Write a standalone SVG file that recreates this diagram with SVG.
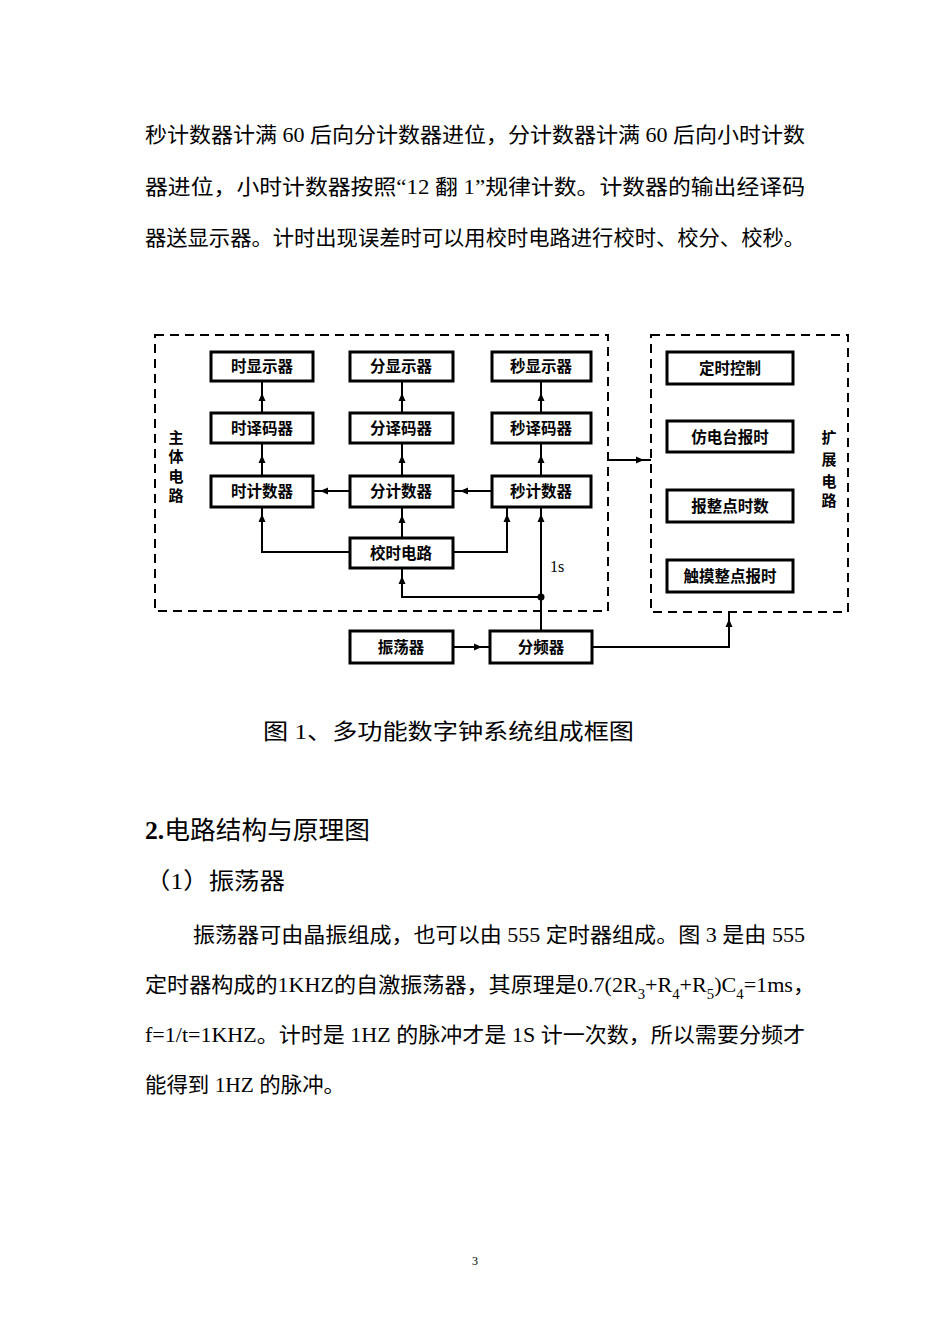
<svg xmlns="http://www.w3.org/2000/svg" width="950" height="1344" viewBox="0 0 950 1344">
<style>
.body{font-family:"Liberation Serif","Noto Sans CJK SC",serif;font-size:21px;fill:#000}
.box rect{fill:#fff;stroke:#000;stroke-width:3}
.box text{font-family:"Noto Sans CJK SC",sans-serif;font-size:15.5px;font-weight:bold;text-anchor:middle;fill:#000}
.dash{fill:none;stroke:#000;stroke-width:2;stroke-dasharray:9 6}
.vlabel{font-family:"Noto Sans CJK SC",sans-serif;font-size:15px;font-weight:bold;text-anchor:middle;fill:#000}
#connectors path{fill:none;stroke:#000;stroke-width:2}
#connectors .ah{fill:#000;stroke:none}
</style>
<defs>
<path id="ah" d="M0,0 L-8,-3.5 L-8,3.5 Z"/>
</defs>
<rect width="950" height="1344" fill="#fff"/>

<g id="text-top" class="body">
<text x="145" y="142" textLength="660" lengthAdjust="spacingAndGlyphs">秒计数器计满 60 后向分计数器进位，分计数器计满 60 后向小时计数</text>
<text x="145" y="194" textLength="660" lengthAdjust="spacingAndGlyphs">器进位，小时计数器按照“12 翻 1”规律计数。计数器的输出经译码</text>
<text x="145" y="245" textLength="660" lengthAdjust="spacingAndGlyphs">器送显示器。计时出现误差时可以用校时电路进行校时、校分、校秒。</text>
</g>

<g id="frames">
<rect class="dash" x="155" y="335" width="453" height="276"/>
<rect class="dash" x="651" y="335" width="197" height="277"/>
<g class="vlabel">
<text x="176" y="443">主</text>
<text x="176" y="462">体</text>
<text x="176" y="482">电</text>
<text x="176" y="501">路</text>
<text x="829" y="443">扩</text>
<text x="829" y="465">展</text>
<text x="829" y="487">电</text>
<text x="829" y="506">路</text>
</g>
</g>

<g id="connectors">
<path d="M262,381 V413 M262,443 V476"/>
<path d="M402,381 V413 M402,443 V476"/>
<path d="M541,381 V413 M541,443 V476"/>
<path d="M492,491 H453 M350,491 H313"/>
<path d="M262,507 V552 H350"/>
<path d="M402,507 V538"/>
<path d="M453,552 H507 V507"/>
<path d="M541,507 V631"/>
<path d="M541,597 H402 V568"/>
<path d="M453,647 H490"/>
<path d="M592,647 H729 V612"/>
<path d="M608,460 H651"/>
<circle cx="541" cy="597" r="3.5" fill="#000"/>
<g class="ah">
<use href="#ah" transform="translate(262,393) rotate(-90)"/>
<use href="#ah" transform="translate(262,455) rotate(-90)"/>
<use href="#ah" transform="translate(402,393) rotate(-90)"/>
<use href="#ah" transform="translate(402,455) rotate(-90)"/>
<use href="#ah" transform="translate(541,393) rotate(-90)"/>
<use href="#ah" transform="translate(541,455) rotate(-90)"/>
<use href="#ah" transform="translate(460,491) rotate(180)"/>
<use href="#ah" transform="translate(320,491) rotate(180)"/>
<use href="#ah" transform="translate(262,514) rotate(-90)"/>
<use href="#ah" transform="translate(402,515) rotate(-90)"/>
<use href="#ah" transform="translate(507,514) rotate(-90)"/>
<use href="#ah" transform="translate(541,514) rotate(-90)"/>
<use href="#ah" transform="translate(402,576) rotate(-90)"/>
<use href="#ah" transform="translate(482,647)"/>
<use href="#ah" transform="translate(729,619) rotate(-90)"/>
<use href="#ah" transform="translate(644,460)"/>
</g>
<text x="550" y="572" font-family="Liberation Serif, serif" font-size="16">1s</text>
</g>

<g id="n-hdisp" class="box"><rect x="211" y="352" width="102" height="29"/><text x="262" y="372">时显示器</text></g>
<g id="n-mdisp" class="box"><rect x="350" y="352" width="103" height="29"/><text x="401" y="372">分显示器</text></g>
<g id="n-sdisp" class="box"><rect x="492" y="352" width="99" height="29"/><text x="541" y="372">秒显示器</text></g>
<g id="n-hdec" class="box"><rect x="211" y="413" width="102" height="30"/><text x="262" y="434">时译码器</text></g>
<g id="n-mdec" class="box"><rect x="350" y="413" width="103" height="30"/><text x="401" y="434">分译码器</text></g>
<g id="n-sdec" class="box"><rect x="492" y="413" width="99" height="30"/><text x="541" y="434">秒译码器</text></g>
<g id="n-hcnt" class="box"><rect x="211" y="476" width="102" height="31"/><text x="262" y="497">时计数器</text></g>
<g id="n-mcnt" class="box"><rect x="350" y="476" width="103" height="31"/><text x="401" y="497">分计数器</text></g>
<g id="n-scnt" class="box"><rect x="492" y="476" width="99" height="31"/><text x="541" y="497">秒计数器</text></g>
<g id="n-adj" class="box"><rect x="350" y="538" width="103" height="30"/><text x="401" y="559">校时电路</text></g>
<g id="n-osc" class="box"><rect x="350" y="631" width="103" height="32"/><text x="401" y="653">振荡器</text></g>
<g id="n-div" class="box"><rect x="490" y="631" width="102" height="32"/><text x="541" y="653">分频器</text></g>
<g id="n-timer" class="box"><rect x="667" y="352" width="126" height="32"/><text x="730" y="374">定时控制</text></g>
<g id="n-radio" class="box"><rect x="667" y="421" width="126" height="31"/><text x="730" y="443">仿电台报时</text></g>
<g id="n-hour" class="box"><rect x="667" y="490" width="126" height="32"/><text x="730" y="512">报整点时数</text></g>
<g id="n-touch" class="box"><rect x="667" y="560" width="126" height="32"/><text x="730" y="582">触摸整点报时</text></g>

<g id="text-bottom" class="body">
<text x="263" y="739" font-size="22" textLength="371" lengthAdjust="spacingAndGlyphs">图 1、多功能数字钟系统组成框图</text>
<text x="145" y="839" font-size="25" textLength="225" lengthAdjust="spacingAndGlyphs"><tspan font-weight="bold">2.</tspan>电路结构与原理图</text>
<text x="145" y="889" font-size="23" textLength="140" lengthAdjust="spacingAndGlyphs">（1）振荡器</text>
<text x="193" y="942" textLength="612" lengthAdjust="spacingAndGlyphs">振荡器可由晶振组成，也可以由 555 定时器组成。图 3 是由 555</text>
<text x="145" y="992" textLength="670" lengthAdjust="spacingAndGlyphs">定时器构成的1KHZ的自激振荡器，其原理是0.7(2R<tspan dy="7" font-size="14">3</tspan><tspan dy="-7">+R</tspan><tspan dy="7" font-size="14">4</tspan><tspan dy="-7">+R</tspan><tspan dy="7" font-size="14">5</tspan><tspan dy="-7">)C</tspan><tspan dy="7" font-size="14">4</tspan><tspan dy="-7">=1ms，</tspan></text>
<text x="145" y="1042" textLength="660" lengthAdjust="spacingAndGlyphs">f=1/t=1KHZ。计时是 1HZ 的脉冲才是 1S 计一次数，所以需要分频才</text>
<text x="145" y="1092" textLength="200" lengthAdjust="spacingAndGlyphs">能得到 1HZ 的脉冲。</text>
<text x="475" y="1265" font-size="12" text-anchor="middle">3</text>
</g>
</svg>
